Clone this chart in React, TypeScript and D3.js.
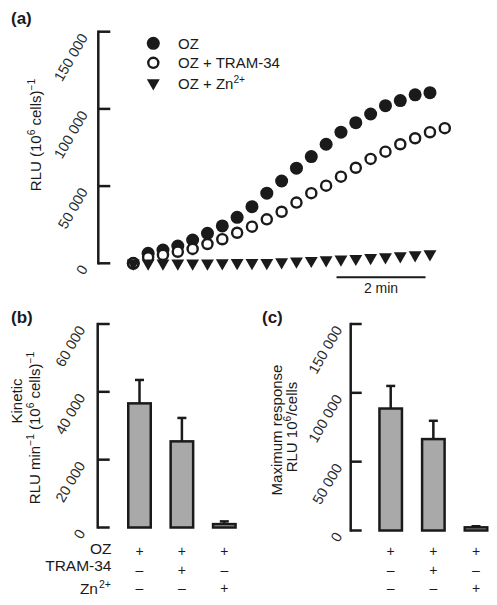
import React from 'react';
import * as d3 from 'd3';

// ---------- data ----------
const timeSec = [0, 20, 40, 60, 80, 100, 120, 140, 160, 180, 200, 220, 240, 260, 280, 300, 320, 340, 360, 380, 400, 420];
const ozValues = [0, 6500, 8600, 11200, 15100, 19400, 24200, 29800, 36700, 45400, 53300, 61600, 69100, 77100, 84900, 91100, 96700, 102100, 105400, 109100, 110500];
const ozTramValues = [0, 3900, 5400, 7500, 9300, 12500, 15600, 19800, 23700, 28500, 33400, 39300, 45400, 50300, 56100, 61900, 67600, 72300, 77100, 81000, 84900, 87500];
const ozZnValues = [0, 0, 0, 0, 0, 0, 200, 400, 300, 400, 800, 1300, 1700, 2100, 2600, 3000, 3600, 4100, 4700, 5400, 6000];
const legendLabels = ['OZ', 'OZ + TRAM-34', 'OZ + Zn'];
const aTicks = [0, 50000, 100000, 150000];
const scaleBarStartSec = 274;
const scaleBarMin = 2;

const groups = ['ctrl', 'tram', 'zn'];
const kineticMean = [36600, 25400, 1000];
const kineticSE = [6900, 6900, 800];
const maxMean = [88600, 66400, 2300];
const maxSE = [16400, 13300, 800];
const bTicks = [0, 20000, 40000, 60000];
const cTicks = [0, 50000, 100000, 150000];
const rowLabels = ['OZ', 'TRAM-34', 'Zn'];
const rowSigns = [
  ['+', '+', '+'],
  ['–', '+', '–'],
  ['–', '–', '+'],
];

// ---------- helpers ----------
const FONT = '"Liberation Sans", Arial, Helvetica, sans-serif';
const INK = '#1a1a1a';
const fmt = (v: number) => (v === 0 ? '0' : d3.format(',')(v).replace(/,/g, ' '));

type Part = { t: string; sup?: boolean };
function SupText({ parts, x, y, rotate = 0, size = 15, anchor = 'middle' }: { parts: Part[]; x: number; y: number; rotate?: number; size?: number; anchor?: string }) {
  let prevSup = false;
  return (
    <text transform={`translate(${x},${y}) rotate(${rotate})`} textAnchor={anchor} fontSize={size} fontFamily={FONT} fill={INK}>
      {parts.map((p, i) => {
        let dy = 0;
        if (p.sup && !prevSup) dy = -size * 0.4;
        if (!p.sup && prevSup) dy = size * 0.4;
        prevSup = !!p.sup;
        return (
          <tspan key={i} dy={dy} fontSize={p.sup ? size * 0.68 : size}>
            {p.t}
          </tspan>
        );
      })}
    </text>
  );
}

function YAxis({ scale, ticks, x, tickLen = 12, labelDx = 10 }: { scale: d3.ScaleLinear<number, number>; ticks: number[]; x: number; tickLen?: number; labelDx?: number }) {
  const [y0, y1] = scale.range();
  return (
    <g>
      <line x1={x} x2={x} y1={y0 + 1.2} y2={y1 - 1.2} stroke={INK} strokeWidth={2.5} />
      {ticks.map((t) => (
        <g key={t}>
          <line x1={x} x2={x + tickLen} y1={scale(t)} y2={scale(t)} stroke={INK} strokeWidth={2.5} />
          <text
            transform={`translate(${x - labelDx},${scale(t) + 5.5}) rotate(-60)`}
            textAnchor="end"
            fontSize={14.5}
            fontFamily={FONT}
            fill="#2a2a2a"
          >
            {fmt(t)}
          </text>
        </g>
      ))}
    </g>
  );
}

function BarPanel({ mean, se, yScale, xScale }: { mean: number[]; se: number[]; yScale: d3.ScaleLinear<number, number>; xScale: d3.ScalePoint<string> }) {
  const w = 22.5;
  return (
    <g>
      {groups.map((g, i) => {
        const cx = xScale(g)!;
        const top = yScale(mean[i]);
        const err = yScale(mean[i] + se[i]);
        return (
          <g key={g}>
            <line x1={cx} x2={cx} y1={top} y2={err} stroke={INK} strokeWidth={2.5} />
            <line x1={cx - 4.5} x2={cx + 4.5} y1={err} y2={err} stroke={INK} strokeWidth={2.5} />
            <rect x={cx - w / 2} y={top} width={w} height={yScale(0) - top} fill="#a9a9a9" stroke={INK} strokeWidth={2.5} />
          </g>
        );
      })}
    </g>
  );
}

function SignRows({ xScale }: { xScale: d3.ScalePoint<string> }) {
  const rowY = [550.7, 569.6, 587.6];
  return (
    <g>
      {rowSigns.map((row, r) =>
        row.map((s, i) => (
          <text key={`${r}-${i}`} x={xScale(groups[i])} y={rowY[r]} textAnchor="middle" dominantBaseline="central" fontSize={14} fontFamily={FONT} fill={INK}>
            {s}
          </text>
        ))
      )}
    </g>
  );
}

export default function App() {
  // ---- panel a ----
  const xA = d3.scaleLinear().domain([0, 420]).range([133.3, 444.8]);
  const yA = d3.scaleLinear().domain([0, 150000]).range([263.3, 31.7]);
  const circle = d3.symbol(d3.symbolCircle, 133)()!;
  const openCircle = d3.symbol(d3.symbolCircle, 80)()!;
  const tri = d3.symbol(d3.symbolTriangle, 72)()!;

  // ---- panel b ----
  const yB = d3.scaleLinear().domain([0, 60000]).range([527.5, 324]);
  const xB = d3.scalePoint<string>().domain(groups).range([139.5, 224.3]);
  // ---- panel c ----
  const yC = d3.scaleLinear().domain([0, 150000]).range([530.5, 324]);
  const xC = d3.scalePoint<string>().domain(groups).range([390.7, 476]);

  const legendY = [43.3, 62.8, 83];
  const legendX = 153.3;
  const sbX1 = xA(scaleBarStartSec);
  const sbX2 = xA(scaleBarStartSec + scaleBarMin * 60);

  return (
    <svg width={497} height={605} style={{ position: 'absolute', left: 0, top: 0, background: '#fff' }} fontFamily={FONT}>
      <rect width={497} height={605} fill="#fff" />
      {/* panel labels */}
      <text x={11} y={24} fontSize={17} fontWeight="bold" fontFamily={FONT} fill={INK}>(a)</text>
      <text x={11} y={323} fontSize={17} fontWeight="bold" fontFamily={FONT} fill={INK}>(b)</text>
      <text x={262} y={323} fontSize={17} fontWeight="bold" fontFamily={FONT} fill={INK}>(c)</text>

      {/* ===== panel a ===== */}
      <YAxis scale={yA} ticks={aTicks} x={98.3} tickLen={12} labelDx={10} />
      <SupText x={40.5} y={135} rotate={-90} size={15} parts={[{ t: 'RLU (10' }, { t: '6', sup: true }, { t: ' cells)' }, { t: '−1', sup: true }]} />

      {ozValues.map((v, i) => (
        <path key={`f${i}`} d={circle} transform={`translate(${xA(timeSec[i])},${yA(v)})`} fill={INK} />
      ))}
      {ozTramValues.map((v, i) => (
        <path key={`o${i}`} d={openCircle} transform={`translate(${xA(timeSec[i])},${yA(v)})`} fill="#fff" stroke={INK} strokeWidth={2.4} />
      ))}
      {ozZnValues.map((v, i) => (
        <path key={`t${i}`} d={tri} transform={`translate(${xA(timeSec[i])},${yA(v)}) rotate(180)`} fill={INK} />
      ))}

      {/* scale bar */}
      <line x1={sbX1} x2={sbX2} y1={277.3} y2={277.3} stroke={INK} strokeWidth={2} />
      <text x={(sbX1 + sbX2) / 2} y={292.5} textAnchor="middle" fontSize={14} fontFamily={FONT} fill={INK}>
        {`${scaleBarMin} min`}
      </text>

      {/* legend */}
      <path d={circle} transform={`translate(${legendX},${legendY[0]})`} fill={INK} />
      <path d={openCircle} transform={`translate(${legendX},${legendY[1]})`} fill="#fff" stroke={INK} strokeWidth={2.4} />
      <path d={tri} transform={`translate(${legendX},${legendY[2]}) rotate(180)`} fill={INK} />
      <text x={178} y={legendY[0] + 5.5} fontSize={15} fontFamily={FONT} fill={INK}>{legendLabels[0]}</text>
      <text x={178} y={legendY[1] + 5.5} fontSize={15} fontFamily={FONT} fill={INK}>{legendLabels[1]}</text>
      <SupText x={178} y={legendY[2] + 5.5} anchor="start" size={15} parts={[{ t: legendLabels[2] }, { t: '2+', sup: true }]} />

      {/* ===== panel b ===== */}
      <YAxis scale={yB} ticks={bTicks} x={97.7} tickLen={12} labelDx={12} />
      <SupText x={22} y={401} rotate={-90} size={15} parts={[{ t: 'Kinetic' }]} />
      <SupText x={40} y={428} rotate={-90} size={15} parts={[{ t: 'RLU min' }, { t: '−1', sup: true }, { t: ' (10' }, { t: '6', sup: true }, { t: ' cells)' }, { t: '−1', sup: true }]} />
      <BarPanel mean={kineticMean} se={kineticSE} yScale={yB} xScale={xB} />
      <SignRows xScale={xB} />
      <text x={111.5} y={553.5} textAnchor="end" fontSize={15.5} fontFamily={FONT} fill={INK}>{rowLabels[0]}</text>
      <text x={111.5} y={570.5} textAnchor="end" fontSize={15.5} fontFamily={FONT} fill={INK}>{rowLabels[1]}</text>
      <SupText x={98} y={594} anchor="end" size={15.5} parts={[{ t: rowLabels[2] }]} />
      <SupText x={99} y={594} anchor="start" size={15.5} parts={[{ t: '' }, { t: '2+', sup: true }]} />

      {/* ===== panel c ===== */}
      <YAxis scale={yC} ticks={cTicks} x={350.7} tickLen={11} labelDx={8} />
      <SupText x={282} y={430} rotate={-90} size={15} parts={[{ t: 'Maximum response' }]} />
      <SupText x={297} y={427} rotate={-90} size={15} parts={[{ t: 'RLU 10' }, { t: '6', sup: true }, { t: '/cells' }]} />
      <BarPanel mean={maxMean} se={maxSE} yScale={yC} xScale={xC} />
      <SignRows xScale={xC} />
    </svg>
  );
}
